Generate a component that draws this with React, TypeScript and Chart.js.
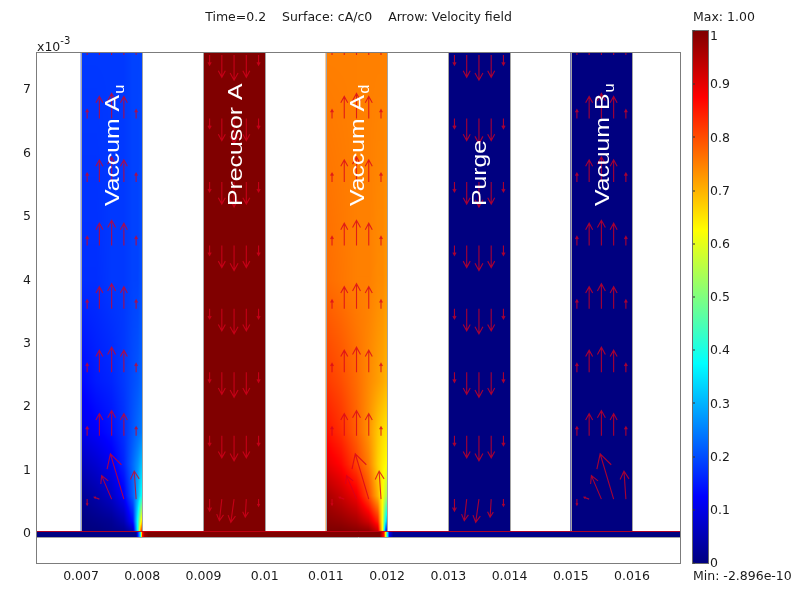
import React, { useEffect, useRef } from "react";
import { Chart, registerables } from "chart.js";

Chart.register(...registerables);

// ---------- axes ----------
const xMin = 0.006281;
const xMax = 0.016784;
const yMin = -0.000457;
const yMax = 0.007583;
const xTickValues = [0.007, 0.008, 0.009, 0.01, 0.011, 0.012, 0.013, 0.014, 0.015, 0.016];
const xTickLabels = ["0.007", "0.008", "0.009", "0.01", "0.011", "0.012", "0.013", "0.014", "0.015", "0.016"];
const yTickValues = [0, 0.001, 0.002, 0.003, 0.004, 0.005, 0.006, 0.007];
const yTickLabels = ["0", "1", "2", "3", "4", "5", "6", "7"];

// ---------- titles ----------
const titleText = "Time=0.2    Surface: cA/c0    Arrow: Velocity field";
const maxText = "Max: 1.00";
const minText = "Min: -2.896e-10";

// ---------- columns (channels) ----------
const columnNames = ["Vaccum A", "Precusor A", "Vaccum A", "Purge", "Vacuum B"];
const columnSubs = ["u", "", "d", "", "u"];
const columnCenters = [0.0075, 0.0095, 0.0115, 0.0135, 0.0155];
const columnHalfWidth = 0.0005;
const columnBase = 0.00004;
const columnTop = 0.0079;
const columnFlow = ["up", "down", "up", "down", "up"];
const columnLevel = [0.18, 1.0, 0.75, 0.0, 0.0];

// concentration field samples (cA/c0) for the two graded channels
// fieldU: fraction across channel width, fieldY: height in 1e-3 m
const fieldU = [0, 0.25, 0.5, 0.7, 0.85, 0.93, 0.97, 1.0];
const fieldY = [0, 0.05, 0.2, 0.6, 1.1, 1.6, 2.4, 4.0, 7.6];
const fieldAu = [
  [0.0, 0.0, 0.0, 0.01, 0.03, 0.3, 0.8, 1.0],
  [0.0, 0.0, 0.01, 0.02, 0.06, 0.4, 0.72, 0.88],
  [0.0, 0.01, 0.02, 0.05, 0.14, 0.4, 0.58, 0.68],
  [0.02, 0.04, 0.07, 0.12, 0.22, 0.3, 0.36, 0.4],
  [0.06, 0.08, 0.11, 0.16, 0.23, 0.27, 0.3, 0.32],
  [0.1, 0.12, 0.14, 0.17, 0.21, 0.23, 0.24, 0.25],
  [0.13, 0.15, 0.16, 0.18, 0.2, 0.21, 0.22, 0.22],
  [0.17, 0.17, 0.18, 0.18, 0.19, 0.19, 0.2, 0.2],
  [0.18, 0.18, 0.18, 0.18, 0.19, 0.19, 0.19, 0.19],
];
const fieldAd = [
  [1.0, 1.0, 1.0, 0.99, 0.95, 0.7, 0.2, 0.08],
  [1.0, 1.0, 0.99, 0.98, 0.92, 0.6, 0.22, 0.12],
  [0.99, 0.98, 0.96, 0.92, 0.84, 0.6, 0.38, 0.28],
  [0.96, 0.93, 0.89, 0.8, 0.7, 0.62, 0.57, 0.54],
  [0.9, 0.87, 0.81, 0.75, 0.67, 0.64, 0.63, 0.62],
  [0.86, 0.83, 0.78, 0.73, 0.68, 0.66, 0.65, 0.65],
  [0.82, 0.8, 0.77, 0.74, 0.72, 0.71, 0.7, 0.7],
  [0.77, 0.76, 0.75, 0.75, 0.74, 0.74, 0.73, 0.73],
  [0.75, 0.75, 0.75, 0.75, 0.75, 0.75, 0.75, 0.75],
];
const columnFields: (number[][] | null)[] = [fieldAu, null, fieldAd, null, null];

// bottom channel strip
const stripTop = 0.00005;
const stripBottom = -0.00005;
const stripX = [6.28, 7.9, 7.97, 8.0, 8.04, 8.1, 11.88, 11.95, 12.0, 12.04, 12.1, 16.79];
const stripV = [0, 0.01, 0.35, 0.85, 0.97, 1.0, 1.0, 0.85, 0.4, 0.1, 0.02, 0];

// velocity arrows (tail points, 1e-3 m) and vectors (relative units)
const arrowRows = [0.55, 1.55, 2.55, 3.55, 4.55, 5.55, 6.55, 7.55];
const arrowOffsets = [-0.4, -0.2, 0, 0.2, 0.4];
const upU = [0, 0, 0, 0, 0];
const upV = [0.33, 0.82, 0.93, 0.82, 0.33];
const upBottomU = [0, -0.19, -0.37, -0.5, -0.07];
const upBottomV = [-0.22, 0.07, 0.87, 1.68, 1.04];
const downU = [0, 0, 0, 0, 0];
const downV = [-0.37, -0.82, -0.93, -0.82, -0.37];
const downBottomU = [0, -0.09, -0.12, -0.04, 0];
const downBottomV = [-0.44, -0.8, -0.86, -0.67, -0.26];

// colour bar
const colorTicks = [0, 0.1, 0.2, 0.3, 0.4, 0.5, 0.6, 0.7, 0.8, 0.9, 1];
const colorTickLabels = ["0", "0.1", "0.2", "0.3", "0.4", "0.5", "0.6", "0.7", "0.8", "0.9", "1"];

// ---------- helpers ----------
const FONT = "'DejaVu Sans', Verdana, sans-serif";
const clamp01 = (t: number) => Math.max(0, Math.min(1, t));
function jet(v: number): number[] {
  v = clamp01(v);
  return [
    clamp01(1.5 - Math.abs(4 * v - 3)),
    clamp01(1.5 - Math.abs(4 * v - 2)),
    clamp01(1.5 - Math.abs(4 * v - 1)),
  ].map((t) => Math.round(t * 255));
}
const jetCss = (v: number) => {
  const [r, g, b] = jet(v);
  return `rgb(${r},${g},${b})`;
};
function bracket(grid: number[], v: number): [number, number] {
  const n = grid.length;
  if (v <= grid[0]) return [0, 0];
  if (v >= grid[n - 1]) return [n - 2, 1];
  for (let i = 0; i < n - 1; i++) {
    if (v <= grid[i + 1]) return [i, (v - grid[i]) / (grid[i + 1] - grid[i])];
  }
  return [n - 2, 1];
}
function sampleField(field: number[][], u: number, y: number): number {
  const [i, ti] = bracket(fieldY, y);
  const [j, tj] = bracket(fieldU, u);
  const r0 = field[i];
  const r1 = field[i + 1];
  const a = r0[j] * (1 - tj) + r0[j + 1] * tj;
  const b = r1[j] * (1 - tj) + r1[j + 1] * tj;
  return a * (1 - ti) + b * ti;
}
function interp(xs: number[], vs: number[], x: number): number {
  const [i, t] = bracket(xs, x);
  return vs[i] * (1 - t) + vs[i + 1] * t;
}

const ARROW_SCALE = 27;

const fieldPlugin = {
  id: "fieldPlugin",
  afterDatasetsDraw(chart: any) {
    const ctx: CanvasRenderingContext2D = chart.ctx;
    const xs = chart.scales.x;
    const ys = chart.scales.y;
    const area = chart.chartArea;
    const meta = chart.getDatasetMeta(0);

    // channel concentration fields
    meta.data.forEach((el: any, i: number) => {
      const p = el.getProps(["x", "y", "base", "width"], true);
      const left = Math.round(p.x - p.width / 2);
      const right = Math.round(p.x + p.width / 2);
      const top = Math.max(Math.round(Math.min(p.y, p.base)), Math.round(area.top));
      const bottom = Math.round(Math.max(p.y, p.base));
      const w = right - left;
      const h = bottom - top;
      if (w <= 0 || h <= 0) return;
      const img = ctx.createImageData(w, h);
      const x0 = columnCenters[i] - columnHalfWidth;
      const field = columnFields[i];
      for (let py = 0; py < h; py++) {
        const yv = ys.getValueForPixel(top + py + 0.5) * 1000;
        for (let px = 0; px < w; px++) {
          const xv = xs.getValueForPixel(left + px + 0.5);
          const u = (xv - x0) / (2 * columnHalfWidth);
          const v = field ? sampleField(field, u, yv) : columnLevel[i];
          const c = jet(v);
          const k = (py * w + px) * 4;
          img.data[k] = c[0];
          img.data[k + 1] = c[1];
          img.data[k + 2] = c[2];
          img.data[k + 3] = 255;
        }
      }
      ctx.putImageData(img, left, top);
    });

    // bottom strip
    const sTop = Math.round(ys.getPixelForValue(stripTop));
    const sBot = Math.round(ys.getPixelForValue(stripBottom));
    const sL = Math.round(area.left);
    const sR = Math.round(area.right);
    {
      const w = sR - sL;
      const h = sBot - sTop;
      const img = ctx.createImageData(w, h);
      for (let px = 0; px < w; px++) {
        const xv = xs.getValueForPixel(sL + px + 0.5) * 1000;
        const c = jet(interp(stripX, stripV, xv));
        for (let py = 0; py < h; py++) {
          const k = (py * w + px) * 4;
          img.data[k] = c[0];
          img.data[k + 1] = c[1];
          img.data[k + 2] = c[2];
          img.data[k + 3] = 255;
        }
      }
      ctx.putImageData(img, sL, sTop);
    }

    ctx.save();
    ctx.beginPath();
    ctx.rect(area.left, area.top, area.right - area.left, area.bottom - area.top);
    ctx.clip();

    // geometry edges
    ctx.strokeStyle = "#a4a4a4";
    ctx.lineWidth = 1;
    ctx.beginPath();
    columnCenters.forEach((c) => {
      [c - columnHalfWidth, c + columnHalfWidth].forEach((xv) => {
        const px = Math.round(xs.getPixelForValue(xv)) + 0.5;
        ctx.moveTo(px, sTop);
        ctx.lineTo(px, area.top);
      });
    });
    ctx.moveTo(area.left, sBot + 0.5);
    ctx.lineTo(area.right, sBot + 0.5);
    ctx.stroke();

    ctx.strokeStyle = "rgba(205,0,20,0.85)";
    ctx.beginPath();
    ctx.moveTo(area.left, sTop + 0.5);
    ctx.lineTo(area.right, sTop + 0.5);
    ctx.stroke();

    // arrows
    ctx.strokeStyle = "rgba(215,0,30,0.78)";
    ctx.lineWidth = 1.1;
    columnCenters.forEach((c, ci) => {
      const up = columnFlow[ci] === "up";
      arrowRows.forEach((ry, ri) => {
        arrowOffsets.forEach((off, k) => {
          let u: number, v: number;
          if (ri === 0) {
            u = up ? upBottomU[k] : downBottomU[k];
            v = up ? upBottomV[k] : downBottomV[k];
          } else {
            u = up ? upU[k] : downU[k];
            v = up ? upV[k] : downV[k];
          }
          const tx = xs.getPixelForValue(c + off / 1000);
          const ty = ys.getPixelForValue(ry / 1000);
          const hx = tx + u * ARROW_SCALE;
          const hy = ty - v * ARROW_SCALE;
          const len = Math.hypot(hx - tx, hy - ty);
          if (len < 0.5) return;
          const ang = Math.atan2(hy - ty, hx - tx);
          const wl = len * 0.33;
          const wa = 0.5;
          ctx.beginPath();
          ctx.moveTo(tx, ty);
          ctx.lineTo(hx, hy);
          ctx.moveTo(hx - wl * Math.cos(ang - wa), hy - wl * Math.sin(ang - wa));
          ctx.lineTo(hx, hy);
          ctx.lineTo(hx - wl * Math.cos(ang + wa), hy - wl * Math.sin(ang + wa));
          ctx.stroke();
        });
      });
    });

    // channel labels
    ctx.fillStyle = "#ffffff";
    const labelStart = ys.getPixelForValue(0.00517);
    columnCenters.forEach((c, i) => {
      const cx = xs.getPixelForValue(c);
      ctx.save();
      ctx.translate(cx + 7.5, labelStart);
      ctx.rotate(-Math.PI / 2);
      ctx.scale(1.18, 1);
      ctx.font = "21px 'Liberation Sans', Arial, sans-serif";
      ctx.textAlign = "left";
      ctx.textBaseline = "alphabetic";
      ctx.fillText(columnNames[i], 0, 0);
      if (columnSubs[i]) {
        const w = ctx.measureText(columnNames[i]).width;
        ctx.font = "14px 'Liberation Sans', Arial, sans-serif";
        ctx.fillText(columnSubs[i], w + 1, 5);
      }
      ctx.restore();
    });
    ctx.restore();

    // frame
    ctx.save();
    ctx.strokeStyle = "#7c7c7c";
    ctx.lineWidth = 1;
    ctx.strokeRect(
      Math.round(area.left) - 0.5,
      Math.round(area.top) - 0.5,
      Math.round(area.right - area.left) + 1,
      Math.round(area.bottom - area.top) + 1
    );
    ctx.restore();
  },
  afterDraw(chart: any) {
    const ctx: CanvasRenderingContext2D = chart.ctx;
    const area = chart.chartArea;
    ctx.save();
    ctx.fillStyle = "#1a1a1a";
    ctx.font = `12.5px ${FONT}`;
    ctx.textBaseline = "middle";
    ctx.textAlign = "center";
    ctx.fillText(titleText, (area.left + area.right) / 2, 17.5);

    // exponent label
    ctx.textAlign = "left";
    ctx.fillText("x10", area.left, area.top - 5);
    const w = ctx.measureText("x10").width;
    ctx.font = `10px ${FONT}`;
    ctx.fillText("-3", area.left + w, area.top - 12);

    // colour bar
    const cbL = 693;
    const cbW = 15;
    const cbT = 31;
    const cbB = 563;
    const g = ctx.createLinearGradient(0, cbB, 0, cbT);
    [0, 0.125, 0.375, 0.625, 0.875, 1].forEach((s) => g.addColorStop(s, jetCss(s)));
    ctx.fillStyle = g;
    ctx.fillRect(cbL, cbT, cbW, cbB - cbT);
    ctx.strokeStyle = "#6a6a6a";
    ctx.lineWidth = 1;
    ctx.strokeRect(cbL - 0.5, cbT - 0.5, cbW + 1, cbB - cbT + 1);
    ctx.font = `12.5px ${FONT}`;
    ctx.textAlign = "left";
    ctx.textBaseline = "middle";
    colorTicks.forEach((t, i) => {
      const y = cbB - t * (cbB - cbT);
      ctx.fillStyle = "#333";
      ctx.fillRect(cbL, Math.round(y) - 0.5, 2, 1);
      ctx.fillStyle = "#1a1a1a";
      ctx.fillText(colorTickLabels[i], cbL + cbW + 2, Math.max(y, cbT + 5) + 1);
    });
    ctx.fillText(maxText, cbL, 18);
    ctx.fillText(minText, cbL, 577);
    ctx.restore();
  },
};

export default function App() {
  const ref = useRef<HTMLCanvasElement | null>(null);
  useEffect(() => {
    document.body.style.margin = "0";
    document.body.style.overflow = "hidden";
    if (!ref.current) return;
    const chart = new Chart(ref.current, {
      type: "bar",
      data: {
        datasets: [
          {
            data: columnCenters.map((c) => ({ x: c, y: [columnBase, columnTop] })) as any,
            backgroundColor: columnLevel.map((v) => jetCss(v)),
            borderWidth: 0,
            barPercentage: 1.0,
            categoryPercentage: 1.0,
          },
        ],
      },
      options: {
        responsive: false,
        maintainAspectRatio: false,
        animation: false,
        events: [],
        layout: { padding: { left: 0, top: 53, right: 115, bottom: 0 } },
        plugins: { legend: { display: false }, tooltip: { enabled: false }, title: { display: false } },
        scales: {
          x: {
            type: "linear",
            min: xMin,
            max: xMax,
            offset: false,
            grid: { display: false, drawTicks: false },
            border: { display: false },
            afterBuildTicks: (s: any) => {
              s.ticks = xTickValues.map((v) => ({ value: v }));
            },
            afterFit: (s: any) => {
              s.height = 26;
            },
            ticks: {
              padding: 6,
              color: "#1a1a1a",
              font: { family: FONT, size: 12.5 },
              maxRotation: 0,
              autoSkip: false,
              callback: (_v: any, i: number) => xTickLabels[i],
            },
          },
          y: {
            type: "linear",
            min: yMin,
            max: yMax,
            grid: { display: false, drawTicks: false },
            border: { display: false },
            afterBuildTicks: (s: any) => {
              s.ticks = yTickValues.map((v) => ({ value: v }));
            },
            afterFit: (s: any) => {
              s.width = 37;
            },
            ticks: {
              padding: 6,
              color: "#1a1a1a",
              font: { family: FONT, size: 12.5 },
              autoSkip: false,
              callback: (_v: any, i: number) => yTickLabels[i],
            },
          },
        },
      } as any,
      plugins: [fieldPlugin],
    });
    return () => chart.destroy();
  }, []);
  return (
    <div style={{ width: 795, height: 589, position: "relative" }}>
      <canvas ref={ref} width={795} height={589} style={{ display: "block" }} />
    </div>
  );
}
